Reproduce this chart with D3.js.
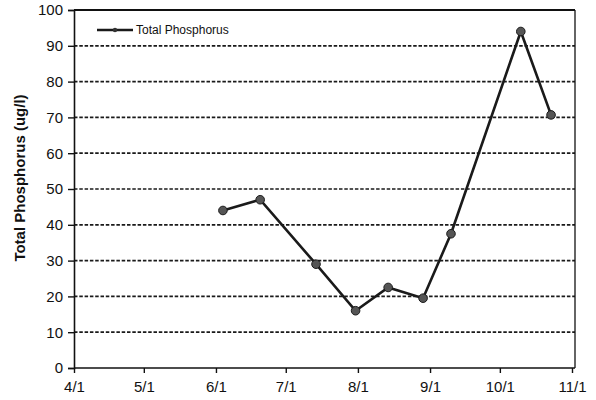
<!DOCTYPE html>
<html><head><meta charset="utf-8">
<script src="https://cdn.jsdelivr.net/npm/d3@7"></script>
<style>body{margin:0;background:#fff}svg{display:block}text{font-family:"Liberation Sans",Arial,sans-serif;fill:#111}</style>
</head><body>
<script>
const sampleDates = ["2000-06-04","2000-06-20","2000-07-14","2000-07-31","2000-08-14","2000-08-29","2000-09-10","2000-10-10","2000-10-23"];
const phosphorus = [44, 47, 29, 16, 22.5, 19.5, 37.5, 94, 70.7];
const xTickDates = ["2000-04-01","2000-05-01","2000-06-01","2000-07-01","2000-08-01","2000-09-01","2000-10-01","2000-11-01"];
const yTicks = [0,10,20,30,40,50,60,70,80,90,100];
const seriesName = "Total Phosphorus";
const yTitle = "Total Phosphorus (ug/l)";

const W = 596, H = 400;
const parse = d3.utcParse("%Y-%m-%d");
const fmt = d3.utcFormat("%-m/%-d");
const svg = d3.select("body").append("svg").attr("width", W).attr("height", H);

const x = d3.scaleUtc().domain([parse(xTickDates[0]), parse(xTickDates[xTickDates.length-1])]).range([74, 572]);
const y = d3.scaleLinear().domain([0, 100]).range([368, 10]);
const right = 575;

// gridlines
svg.append("g").selectAll("line").data(yTicks.filter(v => v > 0 && v < 100)).join("line")
  .attr("x1", 74).attr("x2", right).attr("y1", d => y(d)).attr("y2", d => y(d))
  .attr("stroke", "#1a1a1a").attr("stroke-width", 1.7).attr("stroke-dasharray", "3.5,1.8");

// frame top/right
svg.append("line").attr("x1", 74).attr("x2", right).attr("y1", y(100)).attr("y2", y(100)).attr("stroke", "#111").attr("stroke-width", 1.8);
svg.append("line").attr("x1", right).attr("x2", right).attr("y1", y(100)).attr("y2", y(0)).attr("stroke", "#111").attr("stroke-width", 1.3);

// y axis
const yAxis = svg.append("g").attr("transform", "translate(74,0)")
  .call(d3.axisLeft(y).tickValues(yTicks).tickSize(6).tickPadding(5));
yAxis.select(".domain").attr("stroke", "#111").attr("stroke-width", 1.6);
yAxis.selectAll(".tick line").attr("stroke", "#111").attr("stroke-width", 1.4);
yAxis.selectAll("text").attr("font-size", 15).attr("fill", "#0a0a0a").attr("font-family", "Liberation Sans, Arial, sans-serif");

// x axis
const xAxis = svg.append("g").attr("transform", `translate(0,${y(0)})`)
  .call(d3.axisBottom(x).tickValues(xTickDates.map(parse)).tickFormat(fmt).tickSize(5).tickPadding(8).tickSizeOuter(0));
xAxis.select(".domain").attr("stroke", "#111").attr("stroke-width", 1.6).attr("d", `M74,0H${right}`);
xAxis.selectAll(".tick line").attr("stroke", "#111").attr("stroke-width", 1.4);
xAxis.selectAll("text").attr("font-size", 15).attr("fill", "#0a0a0a").attr("font-family", "Liberation Sans, Arial, sans-serif");

// y title
svg.append("text").attr("transform", `translate(25,178) rotate(-90)`).attr("text-anchor", "middle")
  .attr("font-size", 15).attr("font-weight", "bold").attr("fill", "#0a0a0a").text(yTitle);

// line
const data = sampleDates.map((d, i) => ({date: parse(d), v: phosphorus[i]}));
svg.append("path").datum(data)
  .attr("d", d3.line().x(d => x(d.date)).y(d => y(d.v)))
  .attr("fill", "none").attr("stroke", "#1a1a1a").attr("stroke-width", 2.6);
svg.append("g").selectAll("circle").data(data).join("circle")
  .attr("cx", d => x(d.date)).attr("cy", d => y(d.v)).attr("r", 4.3)
  .attr("fill", "#555").attr("stroke", "#1a1a1a").attr("stroke-width", 1);

// legend
const lg = svg.append("g");
lg.append("line").attr("x1", 97).attr("x2", 133).attr("y1", 30).attr("y2", 30).attr("stroke", "#1a1a1a").attr("stroke-width", 2.6);
lg.append("circle").attr("cx", 115).attr("cy", 30).attr("r", 2.2).attr("fill", "#333");
lg.append("text").attr("x", 136).attr("y", 34).attr("font-size", 12).attr("fill", "#0a0a0a").text(seriesName);
</script>
</body></html>
